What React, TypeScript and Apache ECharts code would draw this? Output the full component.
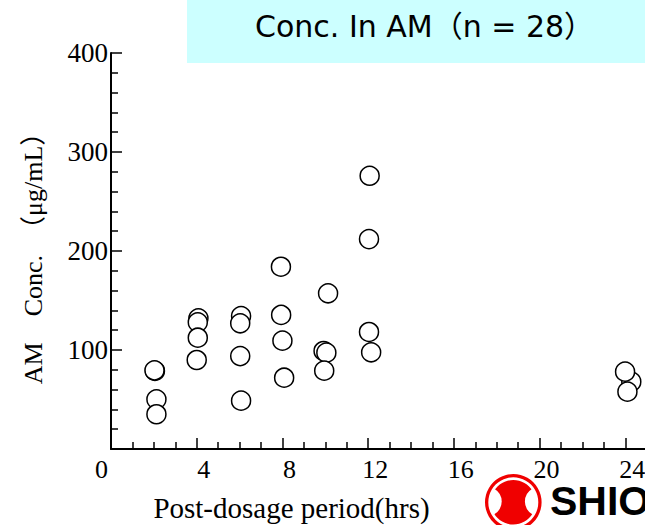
import React, { useEffect, useRef } from "react";
import * as echarts from "echarts";

// Post-dosage period (hrs) and AM concentration (µg/mL)
const hours = [
  2.05, 2.03, 2.12, 2.12,
  4.08, 4.05, 4.05, 4.0,
  6.07, 6.03, 6.03, 6.07,
  7.93, 7.94, 8.0, 8.08,
  10.13, 9.92, 10.05, 9.95,
  12.07, 12.04, 12.04, 12.14,
  24.28, 23.99, 24.1,
];
const concs = [
  78.8, 79.5, 50.2, 35.1,
  132, 128, 112.4, 89.9,
  134.3, 127, 93.9, 48.8,
  184.1, 135.4, 109.4, 72,
  157.3, 99, 97.3, 79.1,
  276, 212, 118.2, 97.7,
  68, 78.1, 57.9,
];

const xTicks = [0, 4, 8, 12, 16, 20, 24, 28];
const yTicks = [0, 100, 200, 300, 400];

const titleText = "Conc. In AM（n = 28）";
const xName = "Post-dosage period(hrs)";
const yName = "AM　Conc.　（μg/mL）";
const logoText = "SHIONOGI";

const SERIF = "'Liberation Serif', 'Times New Roman', 'Noto Sans CJK JP', serif";
const SANS = "'DejaVu Sans', 'Noto Sans CJK JP', sans-serif";

export default function App() {
  const ref = useRef<HTMLDivElement>(null);

  useEffect(() => {
    if (!ref.current) return;
    const chart = echarts.init(ref.current, undefined, { renderer: "svg" });
    const data = hours.map((h, i) => [h, concs[i]]);
    const red = "#f00000";

    chart.setOption({
      animation: false,
      backgroundColor: "#ffffff",
      grid: {
        left: 111,
        top: 53,
        bottom: 76,
        right: 0,
        containLabel: false,
        outerBoundsMode: "none",
      },
      xAxis: {
        type: "value",
        min: xTicks[0],
        max: xTicks[xTicks.length - 1],
        interval: 4,
        axisLine: { show: true, onZero: false, lineStyle: { color: "#000", width: 2 } },
        axisTick: { show: true, inside: true, length: 11, lineStyle: { color: "#000", width: 1.5 } },
        minorTick: { show: true, splitNumber: 4, length: 7, lineStyle: { color: "#000", width: 1.5 } },
        splitLine: { show: false },
        minorSplitLine: { show: false },
        axisLabel: {
          color: "#000",
          fontFamily: SERIF,
          fontSize: 26,
          lineHeight: 24,
          margin: 8,
          showMinLabel: false,
          showMaxLabel: false,
          padding: [0, 0, 0, 14],
          formatter: (v: number) => (v === 0 || v === 28 ? "" : String(v)),
        },
      },
      yAxis: {
        type: "value",
        min: yTicks[0],
        max: yTicks[yTicks.length - 1],
        interval: 100,
        axisLine: { show: true, onZero: false, lineStyle: { color: "#000", width: 2 } },
        axisTick: { show: true, inside: true, length: 11, lineStyle: { color: "#000", width: 1.5 } },
        minorTick: { show: true, splitNumber: 5, length: 7, lineStyle: { color: "#000", width: 1.5 } },
        splitLine: { show: false },
        minorSplitLine: { show: false },
        axisLabel: {
          color: "#000",
          fontFamily: SERIF,
          fontSize: 27,
          margin: 3,
          formatter: (v: number) => (v === 0 ? "" : String(v)),
        },
      },
      series: [
        {
          type: "scatter",
          data,
          symbol: "circle",
          symbolSize: 19,
          itemStyle: { color: "#ffffff", borderColor: "#000", borderWidth: 1.5, opacity: 1 },
          emphasis: { disabled: true },
          z: 3,
        },
      ],
      graphic: [
        {
          type: "rect",
          shape: { x: 187, y: 0, width: 530, height: 63 },
          style: { fill: "#ccffff" },
          z: 1,
        },
        {
          type: "text",
          x: 255,
          y: 26,
          z: 2,
          style: {
            text: titleText,
            font: "30px " + SANS,
            fill: "#000",
            align: "left",
            verticalAlign: "middle",
            textAlign: "left",
            textVerticalAlign: "middle",
          },
        },
        {
          type: "text",
          x: 101.5,
          y: 469,
          style: {
            text: "0",
            font: "26px " + SERIF,
            fill: "#000",
            align: "center",
            verticalAlign: "middle",
            textAlign: "center",
            textVerticalAlign: "middle",
          },
        },
        {
          type: "text",
          x: 291.5,
          y: 508,
          style: {
            text: xName,
            font: "29px " + SERIF,
            fill: "#000",
            align: "center",
            verticalAlign: "middle",
            textAlign: "center",
            textVerticalAlign: "middle",
          },
        },
        {
          type: "text",
          x: 33,
          y: 252,
          rotation: Math.PI / 2,
          style: {
            text: yName,
            font: "26px " + SERIF,
            fill: "#000",
            align: "center",
            verticalAlign: "middle",
            textAlign: "center",
            textVerticalAlign: "middle",
          },
        },
        // logo
        { type: "circle", shape: { cx: 513.3, cy: 502.3, r: 22.3 }, style: { fill: red }, z: 5 },
        { type: "circle", shape: { cx: 486.9, cy: 501.5, r: 14.8 }, style: { fill: "#fff" }, z: 6 },
        { type: "circle", shape: { cx: 539.7, cy: 501.5, r: 14.8 }, style: { fill: "#fff" }, z: 6 },
        {
          type: "ring",
          shape: { cx: 513.3, cy: 502.3, r: 28.3, r0: 25 },
          style: { fill: red },
          z: 7,
        },
        {
          type: "text",
          x: 550,
          y: 501,
          z: 7,
          style: {
            text: logoText,
            font: "bold 41px 'Liberation Sans', Arial, sans-serif",
            lineHeight: 30,
            fill: "#000",
            align: "left",
            verticalAlign: "middle",
            textAlign: "left",
            textVerticalAlign: "middle",
          },
        },
      ],
    });

    return () => chart.dispose();
  }, []);

  return (
    <div style={{ position: "fixed", left: 0, top: 0, width: 645, height: 525, overflow: "hidden" }}>
      <div ref={ref} style={{ width: 711, height: 525 }} />
    </div>
  );
}
